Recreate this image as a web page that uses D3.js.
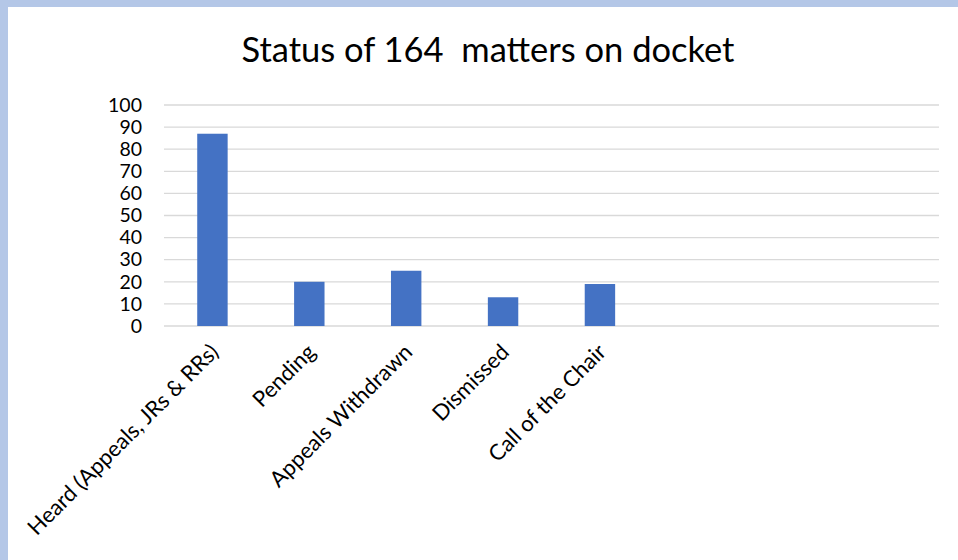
<!DOCTYPE html>
<html>
<head>
<meta charset="utf-8">
<script src="https://cdn.jsdelivr.net/npm/d3@7"></script>
<style>
  body { margin: 0; background: #fff; }
  svg { display: block; font-family: Lato, "Open Sans", sans-serif; }
</style>
</head>
<body>
<svg id="chart" width="958" height="560"></svg>
<script>
const WIDTH = 958;
const HEIGHT = 560;
const MARGIN = { left: 164, right: 19, top: 105, bottom: 234 };

const TITLE = "Status of 164\u00a0 matters on docket";
// three empty slots at the end, as in the original sheet
const categories = ["Heard (Appeals, JRs & RRs)", "Pending", "Appeals Withdrawn", "Dismissed", "Call of the Chair", "", " ", "  "];
const counts = [87, 20, 25, 13, 19];
const yTicks = [0, 10, 20, 30, 40, 50, 60, 70, 80, 90, 100];

const svg = d3.select("#chart");

// frame bands
svg.append("rect").attr("x", 0).attr("y", 0).attr("width", WIDTH).attr("height", 7).attr("fill", "#b4c7e7");
svg.append("rect").attr("x", 0).attr("y", 0).attr("width", 8).attr("height", HEIGHT).attr("fill", "#b4c7e7");

const xScale = d3.scaleBand()
  .domain(categories)
  .range([MARGIN.left, WIDTH - MARGIN.right])
  .paddingInner(0.686)
  .paddingOuter(0.343);

const yScale = d3.scaleLinear()
  .domain([0, 100])
  .range([HEIGHT - MARGIN.bottom, MARGIN.top]);

// gridlines
svg.append("g")
  .selectAll("line")
  .data(yTicks)
  .join("line")
  .attr("x1", MARGIN.left)
  .attr("x2", WIDTH - MARGIN.right)
  .attr("y1", d => yScale(d))
  .attr("y2", d => yScale(d))
  .attr("stroke", "#d9d9d9")
  .attr("stroke-width", 1.3);

// y axis labels
const yAxis = svg.append("g")
  .attr("transform", `translate(${MARGIN.left - 22}, 0)`)
  .call(d3.axisLeft(yScale).tickValues(yTicks).tickSize(0).tickPadding(0));
yAxis.select(".domain").remove();
yAxis.selectAll("text")
  .attr("font-family", "Lato, sans-serif")
  .attr("font-size", 19.5)
  .attr("fill", "#000");

// bars
svg.append("g")
  .selectAll("rect")
  .data(counts)
  .join("rect")
  .attr("x", (d, i) => xScale(categories[i]))
  .attr("y", d => yScale(d))
  .attr("width", xScale.bandwidth())
  .attr("height", d => yScale(0) - yScale(d))
  .attr("fill", "#4472c4");

// x labels, rotated
svg.append("g")
  .selectAll("text")
  .data(categories.slice(0, counts.length))
  .join("text")
  .attr("transform", d => `translate(${xScale(d) + xScale.bandwidth() / 2 + 2}, ${yScale(0) + 22}) rotate(-45)`)
  .attr("text-anchor", "end")
  .attr("dy", "0.35em")
  .attr("font-size", 22)
  .attr("fill", "#000")
  .text(d => d);

// title
svg.append("text")
  .attr("x", 488)
  .attr("y", 62)
  .attr("text-anchor", "middle")
  .attr("font-size", 34.5)
  .attr("fill", "#000")
  .style("white-space", "pre")
  .text(TITLE);
</script>
</body>
</html>
